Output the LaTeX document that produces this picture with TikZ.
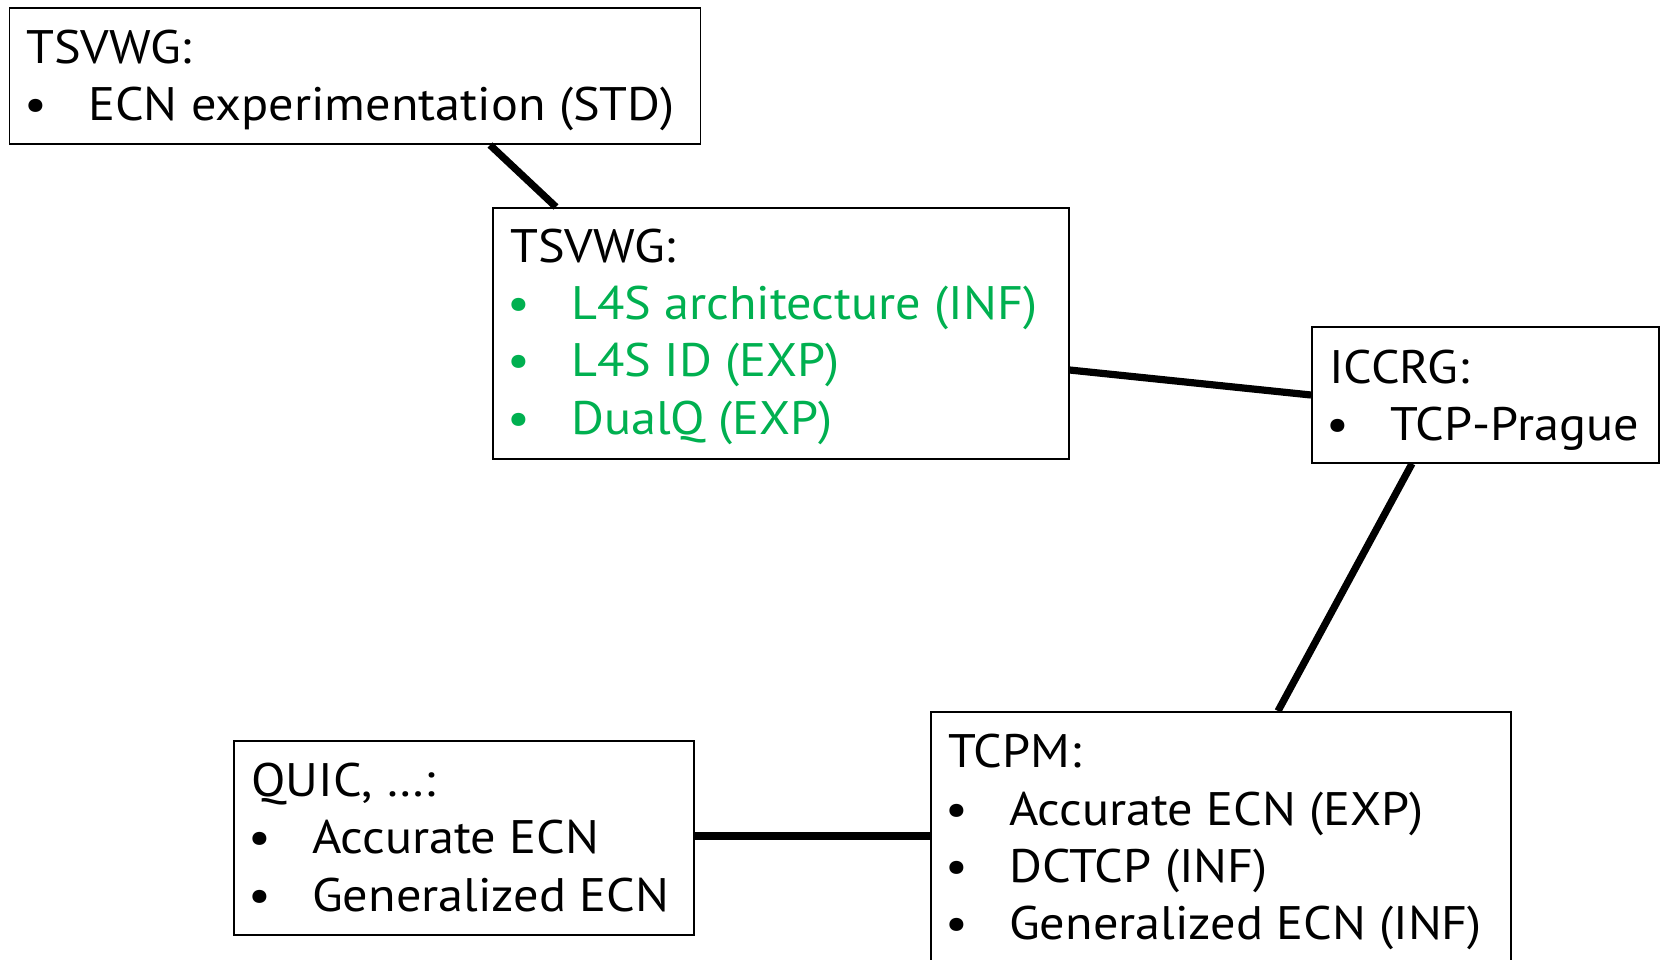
\documentclass[tikz,border=0pt]{standalone}
\usepackage{fontspec}
\setmainfont{PT Sans}[FakeStretch=1.07]
\usetikzlibrary{calc}
\definecolor{lfsgreen}{HTML}{00B050}
\begin{document}
\begin{tikzpicture}[x=1pt,y=-1pt,
  box/.style={draw=black,line width=1.6pt,rectangle,inner sep=0pt,anchor=north west},
  conn/.style={line width=7.2pt},
  txt/.style={anchor=base west,inner sep=0pt,font=\fontsize{47}{56}\selectfont},
  bul/.style={anchor=base,inner sep=0pt,font=\fontsize{47}{56}\selectfont}]
\useasboundingbox (0,0) rectangle (1662,959);
\clip (0,0) rectangle (1662,959);
% boxes
\node[box,minimum width=691pt,minimum height=136pt] (b1) at (8.5,7.4) {};
\node[box,minimum width=576pt,minimum height=251pt] (b2) at (492,207) {};
\node[box,minimum width=347pt,minimum height=136pt] (b3) at (1311,326) {};
\node[box,minimum width=580pt,minimum height=270pt] (b4) at (930,711) {};
\node[box,minimum width=460pt,minimum height=194pt] (b5) at (233,740) {};
% connectors
\draw[conn] ($(b1.south west)+(481.5,0)$) -- ($(b2.north west)+(64,0)$);
\draw[conn] ($(b2.north east)+(0,163)$) -- ($(b3.north west)+(0,69)$);
\draw[conn] ($(b3.south west)+(101,0)$) -- ($(b4.north west)+(348,0)$);
\draw[conn] ($(b5.north east)+(0,96)$) -- ($(b4.north west)+(0,125)$);
% box 1
\node[txt] (t1) at (26,63) {TSVWG:};
\node[bul] (t1b) at (36,120) {•};
\node[txt] (t1i) at (88,120) {ECN experimentation (STD)};
% box 2
\node[txt] (t2) at (510,262) {TSVWG:};
\node[bul,text=lfsgreen] (t2b1) at (519,319) {•};
\node[txt,text=lfsgreen] (t2i1) at (571,319) {L4S architecture (INF)};
\node[bul,text=lfsgreen] (t2b2) at (519,376) {•};
\node[txt,text=lfsgreen] (t2i2) at (571,376) {L4S ID (EXP)};
\node[bul,text=lfsgreen] (t2b3) at (519,434) {•};
\node[txt,text=lfsgreen] (t2i3) at (571,434) {DualQ (EXP)};
% box 3
\node[txt] (t3) at (1329,383) {ICCRG:};
\node[bul] (t3b) at (1338,440) {•};
\node[txt] (t3i) at (1390,440) {TCP-Prague};
% box 4
\node[txt] (t4) at (948,767) {TCPM:};
\node[bul] (t4b1) at (957,825) {•};
\node[txt] (t4i1) at (1009,825) {Accurate ECN (EXP)};
\node[bul] (t4b2) at (957,882) {•};
\node[txt] (t4i2) at (1009,882) {DCTCP (INF)};
\node[bul] (t4b3) at (957,939) {•};
\node[txt] (t4i3) at (1009,939) {Generalized ECN (INF)};
% box 5
\node[txt] (t5) at (251,796) {QUIC, …:};
\node[bul] (t5b1) at (260,853) {•};
\node[txt] (t5i1) at (312,853) {Accurate ECN};
\node[bul] (t5b2) at (260,911) {•};
\node[txt] (t5i2) at (312,911) {Generalized ECN};
\end{tikzpicture}
\end{document}
